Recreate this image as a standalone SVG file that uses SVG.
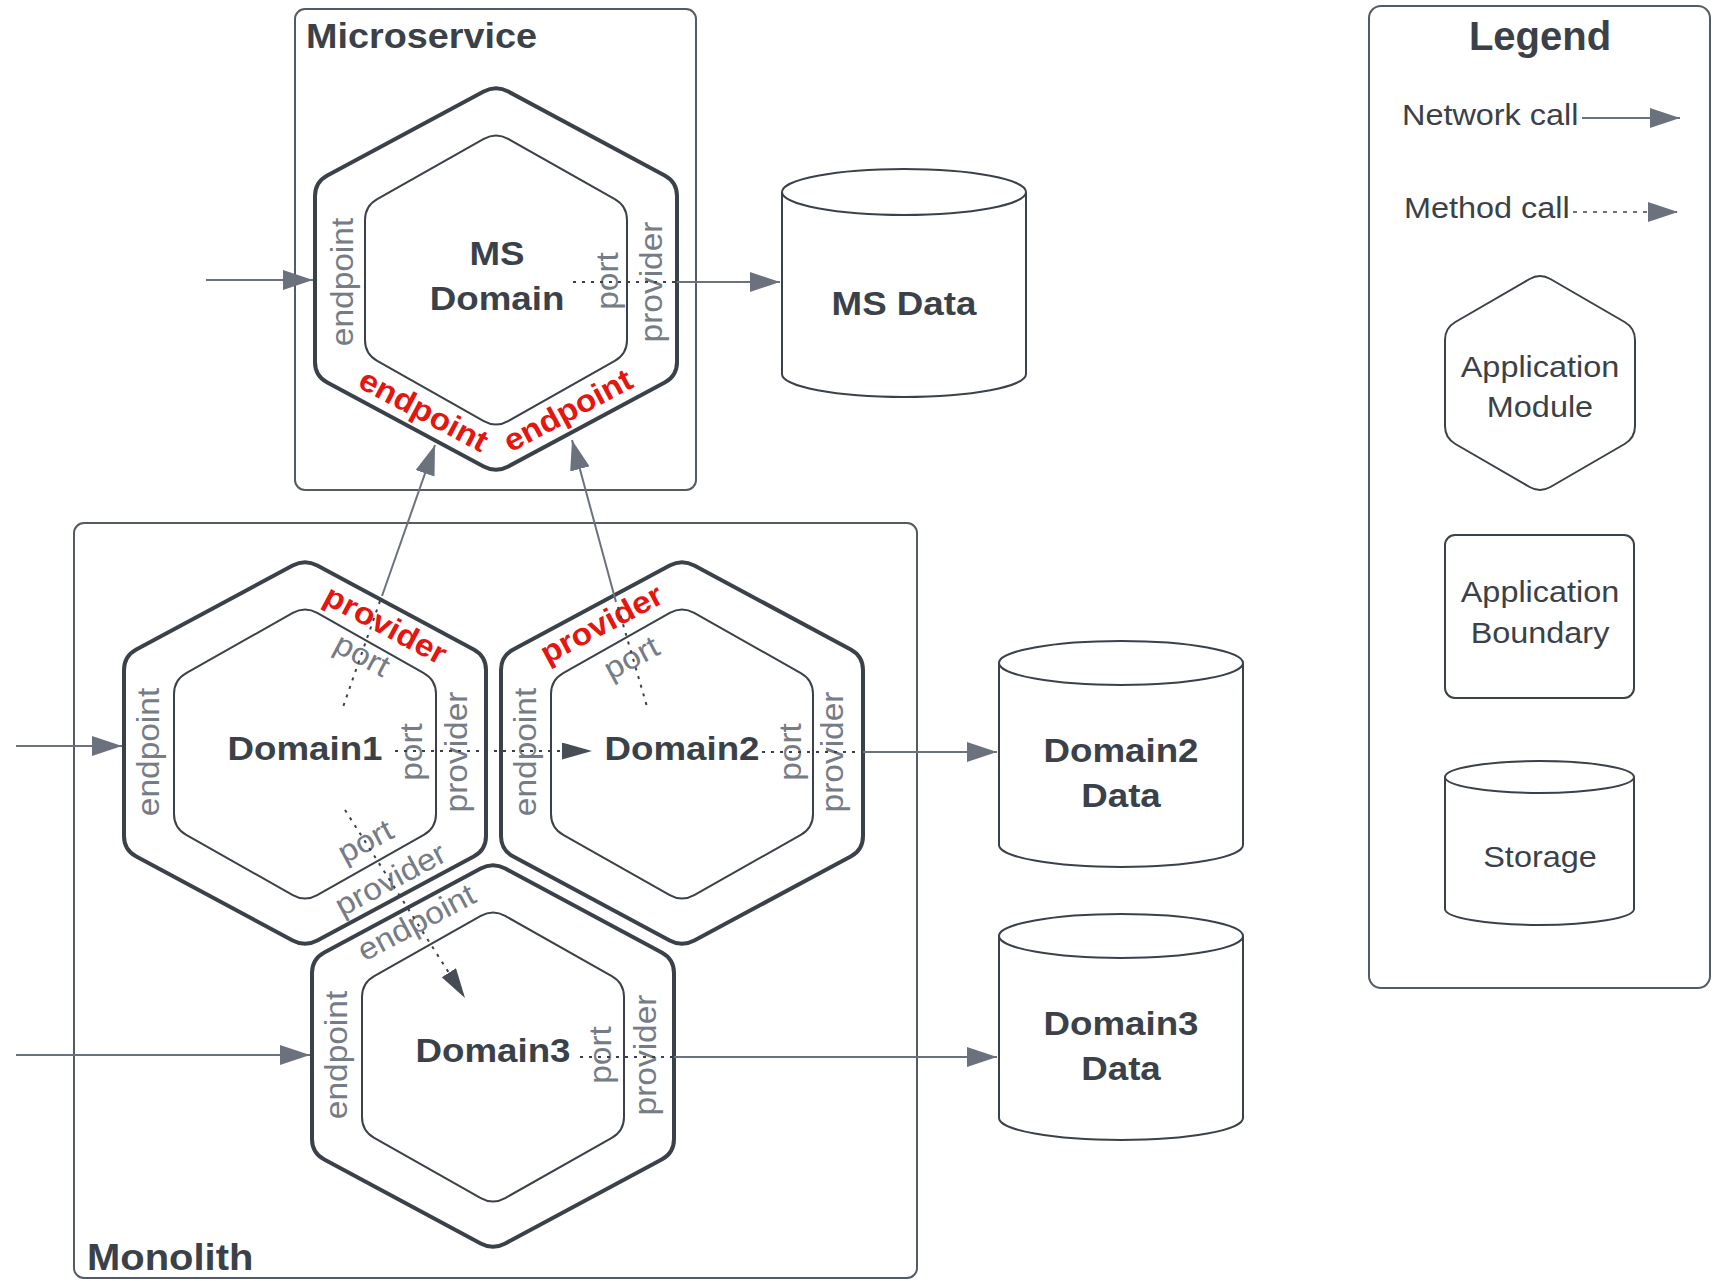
<svg xmlns="http://www.w3.org/2000/svg" xmlns:xlink="http://www.w3.org/1999/xlink" width="1716" height="1281" viewBox="0 0 1716 1281">
<style>
text{font-family:"Liberation Sans",Arial,sans-serif;}
.b{font-weight:bold;fill:#3b4149;}
.name{font-size:34px;text-anchor:middle;}
.lbl{font-size:31px;fill:#767c86;text-anchor:middle;}
.red{font-size:31px;font-weight:bold;fill:#e5150f;text-anchor:middle;}
.lg{font-size:30px;fill:#3b4149;}
.mid{text-anchor:middle;}
.hexo{fill:#fff;stroke:#3b4149;stroke-width:4;}
.hexi{fill:none;stroke:#3b4149;stroke-width:2;}
.box{fill:none;stroke:#545b64;stroke-width:2;}
.cyl{fill:#fff;stroke:#3b4149;stroke-width:2;}
.cyla{fill:none;stroke:#3b4149;stroke-width:2;}
.net{fill:none;stroke:#6c727d;stroke-width:2;}
.dot{fill:none;stroke:#3b4149;stroke-width:2;stroke-dasharray:3 6;}
.ldot{fill:none;stroke:#6c727d;stroke-width:2;stroke-dasharray:4 6;}
</style>
<defs>
<path id="hexO" d="M-12.3,6.6 Q0,0 12.3,6.6 L168.7,90.4 Q181,97 181,111 L181,277 Q181,291 168.7,297.6 L12.3,381.4 Q0,388 -12.3,381.4 L-168.7,297.6 Q-181,291 -181,277 L-181,111 Q-181,97 -168.7,90.4 Z"/>
<path id="hexI" d="M-12.2,53.9 Q0,47 12.2,53.9 L118.8,114.1 Q131,121 131,135 L131,255 Q131,269 118.8,275.9 L12.2,336.1 Q0,343 -12.2,336.1 L-118.8,275.9 Q-131,269 -131,255 L-131,135 Q-131,121 -118.8,114.1 Z"/>
<marker id="aG" markerUnits="userSpaceOnUse" markerWidth="30" markerHeight="20" refX="30" refY="10" orient="auto"><path d="M0,0 L30,10 L0,20 Z" fill="#6c727d"/></marker>
<marker id="aD" markerUnits="userSpaceOnUse" markerWidth="30" markerHeight="17" refX="30" refY="8.5" orient="auto"><path d="M0,0 L30,8.5 L0,17 Z" fill="#474d56"/></marker>
</defs>
<rect width="1716" height="1281" fill="#fff"/>

<g id="microservice">
<rect class="box" x="295" y="9" width="401" height="481" rx="10"/>
<text class="b" font-size="35" transform="translate(306 48) scale(1.08 1)">Microservice</text>
</g>

<g id="monolith">
<rect class="box" x="74" y="523" width="843" height="755" rx="10"/>
<text class="b" font-size="37" transform="translate(87 1270) scale(1.08 1)">Monolith</text>
</g>

<g id="ms-domain">
<use href="#hexO" class="hexo" transform="translate(496 85)"/>
<use href="#hexI" class="hexi" transform="translate(496 85)"/>
<text class="b name" transform="translate(497 265) scale(1.08 1)">MS</text>
<text class="b name" transform="translate(497 310) scale(1.08 1)">Domain</text>
<text class="lbl" transform="translate(353 282) rotate(-90) scale(1.08 1)">endpoint</text>
<text class="lbl" transform="translate(618 281) rotate(-90) scale(1.08 1)">port</text>
<text class="lbl" transform="translate(662 282) rotate(-90) scale(1.08 1)">provider</text>
<text class="red" transform="translate(418.8 419.6) rotate(28) scale(1.08 1)">endpoint</text>
<text class="red" transform="translate(572.8 419.6) rotate(-28) scale(1.08 1)">endpoint</text>
</g>

<g id="domain1">
<use href="#hexO" class="hexo" transform="translate(305 559)"/>
<use href="#hexI" class="hexi" transform="translate(305 559)"/>
<text class="b name" transform="translate(305 760) scale(1.08 1)">Domain1</text>
<text class="lbl" transform="translate(159 752) rotate(-90) scale(1.08 1)">endpoint</text>
<text class="lbl" transform="translate(422 752) rotate(-90) scale(1.08 1)">port</text>
<text class="lbl" transform="translate(467 752) rotate(-90) scale(1.08 1)">provider</text>
<text class="red" transform="translate(380.7 634) rotate(28) scale(1.08 1)">provider</text>
<text class="lbl" transform="translate(357.2 664) rotate(28) scale(1.08 1)">port</text>
<text class="lbl" transform="translate(370.3 850.5) rotate(-28) scale(1.08 1)">port</text>
<text class="lbl" transform="translate(395.3 888.5) rotate(-28) scale(1.08 1)">provider</text>
</g>

<g id="domain2">
<use href="#hexO" class="hexo" transform="translate(682 559)"/>
<use href="#hexI" class="hexi" transform="translate(682 559)"/>
<text class="b name" transform="translate(682 760) scale(1.08 1)">Domain2</text>
<text class="lbl" transform="translate(536 752) rotate(-90) scale(1.08 1)">endpoint</text>
<text class="lbl" transform="translate(801 752) rotate(-90) scale(1.08 1)">port</text>
<text class="lbl" transform="translate(843 752) rotate(-90) scale(1.08 1)">provider</text>
<text class="red" transform="translate(606.3 633) rotate(-28) scale(1.08 1)">provider</text>
<text class="lbl" transform="translate(636.3 667) rotate(-28) scale(1.08 1)">port</text>
</g>

<g id="domain3">
<use href="#hexO" class="hexo" transform="translate(493 862)"/>
<use href="#hexI" class="hexi" transform="translate(493 862)"/>
<text class="b name" transform="translate(493 1062) scale(1.08 1)">Domain3</text>
<text class="lbl" transform="translate(347 1055) rotate(-90) scale(1.08 1)">endpoint</text>
<text class="lbl" transform="translate(611 1055) rotate(-90) scale(1.08 1)">port</text>
<text class="lbl" transform="translate(656 1055) rotate(-90) scale(1.08 1)">provider</text>
<text class="lbl" transform="translate(421.3 931.5) rotate(-28) scale(1.08 1)">endpoint</text>
</g>

<g id="ms-data">
<path class="cyl" d="M782,192 A122,23 0 0 1 1026,192 L1026,374 A122,23 0 0 1 782,374 Z"/>
<path class="cyla" d="M782,192 A122,23 0 0 0 1026,192"/>
<text class="b name" transform="translate(904 315) scale(1.08 1)">MS Data</text>
</g>

<g id="domain2-data">
<path class="cyl" d="M999,663 A122,22 0 0 1 1243,663 L1243,845 A122,22 0 0 1 999,845 Z"/>
<path class="cyla" d="M999,663 A122,22 0 0 0 1243,663"/>
<text class="b name" transform="translate(1121 762) scale(1.08 1)">Domain2</text>
<text class="b name" transform="translate(1121 807) scale(1.08 1)">Data</text>
</g>

<g id="domain3-data">
<path class="cyl" d="M999,936 A122,22 0 0 1 1243,936 L1243,1118 A122,22 0 0 1 999,1118 Z"/>
<path class="cyla" d="M999,936 A122,22 0 0 0 1243,936"/>
<text class="b name" transform="translate(1121 1035) scale(1.08 1)">Domain3</text>
<text class="b name" transform="translate(1121 1080) scale(1.08 1)">Data</text>
</g>

<g id="legend">
<rect class="box" x="1369" y="6" width="341" height="982" rx="12"/>
<text class="b mid" font-size="40" x="1540" y="50">Legend</text>
<text class="lg" transform="translate(1402 125) scale(1.08 1)">Network call</text>
<path class="net" d="M1582,118 H1680" marker-end="url(#aG)"/>
<text class="lg" transform="translate(1404 218) scale(1.08 1)">Method call</text>
<path class="ldot" d="M1573,212 H1678" marker-end="url(#aG)"/>
<path class="cyl" transform="translate(1540 273)" d="M-10.4,6 Q0,0 10.4,6 L84.6,49 Q95,55 95,67 L95,153 Q95,165 84.6,171 L10.4,214 Q0,220 -10.4,214 L-84.6,171 Q-95,165 -95,153 L-95,67 Q-95,55 -84.6,49 Z"/>
<text class="lg mid" transform="translate(1540 377) scale(1.08 1)">Application</text>
<text class="lg mid" transform="translate(1540 417) scale(1.08 1)">Module</text>
<rect class="cyl" x="1445" y="535" width="189" height="163" rx="10"/>
<text class="lg mid" transform="translate(1540 602) scale(1.08 1)">Application</text>
<text class="lg mid" transform="translate(1540 643) scale(1.08 1)">Boundary</text>
<path class="cyl" d="M1445,777 A94.5,16 0 0 1 1634,777 L1634,909 A94.5,16 0 0 1 1445,909 Z"/>
<path class="cyla" d="M1445,777 A94.5,16 0 0 0 1634,777"/>
<text class="lg mid" transform="translate(1540 867) scale(1.08 1)">Storage</text>
</g>

<g id="connectors">
<path class="net" d="M206,280 H313" marker-end="url(#aG)"/>
<path class="net" d="M16,746 H122" marker-end="url(#aG)"/>
<path class="net" d="M16,1055 H310" marker-end="url(#aG)"/>
<path class="dot" d="M573,282 H677"/>
<path class="net" d="M677,282 H780" marker-end="url(#aG)"/>
<path class="dot" d="M380,601 L343,707"/>
<path class="net" d="M382,596 L435,445" marker-end="url(#aG)"/>
<path class="dot" d="M618,607 L648,710"/>
<path class="net" d="M616,602 L572,440" marker-end="url(#aG)"/>
<path class="dot" d="M395,751 L592,751" marker-end="url(#aD)"/>
<path class="dot" d="M345,810 L465,998" marker-end="url(#aD)"/>
<path class="dot" d="M762,752 H863"/>
<path class="net" d="M863,752 H997" marker-end="url(#aG)"/>
<path class="dot" d="M580,1057 H674"/>
<path class="net" d="M674,1057 H997" marker-end="url(#aG)"/>
</g>
</svg>
